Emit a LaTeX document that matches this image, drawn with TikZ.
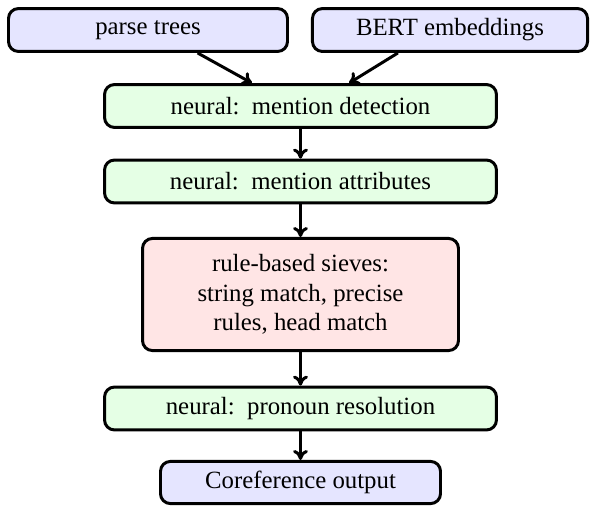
\documentclass[tikz,border=0pt]{standalone}
\usepackage{fontspec}
\setmainfont{Liberation Serif}
\usetikzlibrary{arrows.meta}
\begin{document}
\begin{tikzpicture}[x=0.4032pt,y=0.4032pt,
  box/.style={draw=black, line width=1.2pt, rounded corners=4pt, align=center, inner sep=2pt, font=\fontsize{10}{12}\selectfont},
  inbox/.style={box, fill=blue!10},
  nbox/.style={box, fill=green!10, minimum width=158pt, minimum height=17.3pt},
  rbox/.style={box, fill=red!10, minimum width=127.4pt, minimum height=45.2pt},
  arr/.style={line width=1.2pt, -{To[length=4pt,width=6pt]}}]
\useasboundingbox (0,0) rectangle (590,-506);
\node[inbox, minimum width=112.5pt, minimum height=17.3pt] (parse) at (148,-30) {parse trees};
\node[inbox, minimum width=110.9pt, minimum height=17.3pt] (bert) at (450,-30) {BERT embeddings};
\node[nbox] (md) at (300.5,-106) {neural:\ \ mention detection};
\node[nbox] (ma) at (300.5,-181.5) {neural:\ \ mention attributes};
\node[rbox] (rule) at (300.5,-294.5) {rule-based sieves:\\string match, precise\\rules, head match};
\node[nbox] (pr) at (300.5,-408.5) {neural:\ \ pronoun resolution};
\node[inbox, minimum width=112.9pt, minimum height=17pt] (coref) at (300.5,-482.5) {Coreference output};
\draw[arr] ([xshift=20pt]parse.south) -- ([xshift=-19.6pt]md.north);
\draw[arr] ([xshift=-21pt]bert.south) -- ([xshift=19.6pt]md.north);
\draw[arr] (md) -- (ma);
\draw[arr] (ma) -- (rule);
\draw[arr] (rule) -- (pr);
\draw[arr] (pr) -- (coref);
\end{tikzpicture}
\end{document}
